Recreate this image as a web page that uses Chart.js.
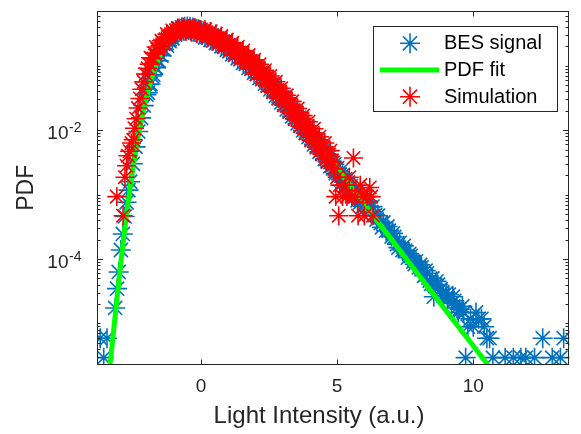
<!DOCTYPE html>
<html>
<head>
<meta charset="utf-8">
<script src="https://cdn.jsdelivr.net/npm/chart.js@4.4.1/dist/chart.umd.min.js"></script>
<style>
  html, body { margin: 0; padding: 0; background: #ffffff; }
</style>
</head>
<body>
<canvas id="chartCanvas" width="581" height="434"></canvas>
<script>
/* =========================
   Data
========================= */
// BES signal, main histogram bins
const besX = [
  -3.70, -3.57, -3.45, -3.15, -3.08, -3.02, -2.94, -2.87, -2.80, -2.73,
  -2.66, -2.60, -2.50, -2.40, -2.30, -2.20, -2.10, -2.00, -1.90, -1.80,
  -1.70, -1.60, -1.50, -1.40, -1.30, -1.20, -1.10, -1.00, -0.90, -0.80,
  -0.70, -0.60, -0.50, -0.40, -0.30, -0.20, -0.10, 0.00, 0.10, 0.20,
  0.30, 0.40, 0.50, 0.60, 0.70, 0.80, 0.90, 1.00, 1.10, 1.20,
  1.30, 1.40, 1.50, 1.60, 1.70, 1.80, 1.90, 2.00, 2.10, 2.20,
  2.30, 2.40, 2.50, 2.60, 2.70, 2.80, 2.90, 3.00, 3.10, 3.20,
  3.30, 3.40, 3.50, 3.60, 3.70, 3.80, 3.90, 4.00, 4.10, 4.20,
  4.30, 4.40, 4.50, 4.60, 4.70, 4.80, 4.90, 5.00, 5.10, 5.20,
  5.30, 5.40, 5.50, 5.60, 5.70, 5.80, 5.90, 6.00, 6.10, 6.20,
  6.30, 6.40, 6.50, 6.60, 6.70, 6.80, 6.90, 7.00, 7.10, 7.20,
  7.30, 7.40, 7.50, 7.60, 7.70, 7.80, 7.90, 8.00, 8.10, 8.20,
  8.30, 8.40, 8.50, 8.55, 8.60, 8.70, 8.80, 8.90, 9.00, 9.10,
  9.20, 9.30, 9.40, 9.50, 9.60, 9.72, 9.80, 9.90, 10.00, 10.10,
  10.20, 10.30, 10.40, 10.50, 10.60, 10.72, 11.17, 11.47, 11.75, 11.93,
  12.25, 12.55, 12.90, 13.20, 13.32
];
const besY = [
  5.9e-6, 2.95e-6, 5.9e-6, 1.74e-5, 3.47e-5, 6.3e-5, 1.38e-4, 2.45e-4, 4.57e-4, 7.6e-4,
  1.17e-3, 1.58e-3, 3.0e-3, 5.5e-3, 9.5e-3, 1.55e-2, 2.4e-2, 3.55e-2, 5.1e-2, 6.9e-2,
  0.095, 0.12, 0.148, 0.182, 0.219, 0.251, 0.288, 0.324, 0.351, 0.376,
  0.394, 0.403, 0.407, 0.403, 0.39, 0.38, 0.367, 0.355, 0.339, 0.324,
  0.309, 0.295, 0.282, 0.266, 0.251, 0.237, 0.224, 0.209, 0.195, 0.182,
  0.17, 0.158, 0.145, 0.135, 0.123, 0.115, 0.105, 0.0955, 0.087, 0.079,
  0.0716, 0.0646, 0.0575, 0.0519, 0.0468, 0.0412, 0.0367, 0.0324, 0.0288, 0.0254,
  0.0224, 0.020, 0.0174, 0.0155, 0.0135, 0.012, 0.0106, 9.3e-3, 8.2e-3, 7.2e-3,
  6.3e-3, 5.56e-3, 4.9e-3, 4.3e-3, 3.8e-3, 3.3e-3, 2.95e-3, 2.57e-3, 2.26e-3, 2.0e-3,
  1.74e-3, 1.55e-3, 1.35e-3, 1.19e-3, 1.05e-3, 9.1e-4, 8.0e-4, 7.1e-4, 7.9e-4, 6.3e-4,
  6.5e-4, 4.8e-4, 4.7e-4, 3.6e-4, 3.7e-4, 2.75e-4, 2.75e-4, 2.24e-4, 2.2e-4, 1.7e-4,
  1.78e-4, 1.38e-4, 1.35e-4, 1.05e-4, 1.12e-4, 9.1e-5, 9.2e-5, 7.4e-5, 7.4e-5, 5.5e-5,
  6.0e-5, 4.6e-5, 5.0e-5, 2.6e-5, 3.8e-5, 4.0e-5, 3.4e-5, 2.7e-5, 2.95e-5, 2.8e-5,
  2.05e-5, 2.25e-5, 1.74e-5, 1.67e-5, 1.85e-5, 2.95e-6, 8.9e-6, 1.18e-5, 8.9e-6, 1.48e-5,
  1.18e-5, 1.18e-5, 8.9e-6, 5.9e-6, 5.9e-6, 2.95e-6, 2.95e-6, 2.95e-6, 2.95e-6, 2.95e-6,
  2.95e-6, 5.9e-6, 2.95e-6, 2.95e-6, 5.9e-6
];
// BES signal, in-between bins (lower side of the band)
const besX2 = [
  -1.95, -1.85, -1.75, -1.65, -1.55, -1.45, -1.35, -1.25, -1.15, -1.05,
  -0.95, -0.85, -0.75, -0.65, -0.55, -0.45, -0.35, -0.25, -0.15, -0.05,
  0.05, 0.15, 0.25, 0.35, 0.45, 0.55, 0.65, 0.75, 0.85, 0.95,
  1.05, 1.15, 1.25, 1.35, 1.45, 1.55, 1.65, 1.75, 1.85, 1.95,
  2.05, 2.15, 2.25, 2.35, 2.45, 2.55, 2.65, 2.75, 2.85, 2.95,
  3.05, 3.15, 3.25, 3.35, 3.45, 3.55, 3.65, 3.75, 3.85, 3.95,
  4.05, 4.15, 4.25, 4.35, 4.45, 4.55, 4.65, 4.75, 4.85, 4.95,
  5.05, 5.15, 5.25, 5.35, 5.45, 5.55, 5.65, 5.75, 5.85, 5.95,
  6.25, 6.45, 6.65, 6.85, 7.05, 7.25, 7.45, 7.65, 7.85, 8.05,
  8.25, 8.45, 8.65, 8.85, 9.05, 9.25, 9.45, 9.65
];
const besY2 = [
  0.038, 0.0519, 0.0724, 0.0933, 0.119, 0.143, 0.178, 0.204, 0.24, 0.266,
  0.302, 0.316, 0.343, 0.347, 0.361, 0.353, 0.355, 0.335, 0.333, 0.307,
  0.302, 0.275, 0.275, 0.251, 0.245, 0.224, 0.219, 0.20, 0.195, 0.176,
  0.168, 0.15, 0.146, 0.13, 0.126, 0.111, 0.107, 0.0923, 0.0891, 0.0776,
  0.0741, 0.0646, 0.0617, 0.0525, 0.0495, 0.0427, 0.0398, 0.0339, 0.0316, 0.0269,
  0.0248, 0.0209, 0.0195, 0.0164, 0.0151, 0.0127, 0.0117, 9.9e-3, 9.1e-3, 7.8e-3,
  7.1e-3, 6.0e-3, 5.5e-3, 4.6e-3, 4.3e-3, 3.55e-3, 3.3e-3, 2.75e-3, 2.54e-3, 2.14e-3,
  1.95e-3, 1.7e-3, 1.55e-3, 1.3e-3, 1.2e-3, 1.0e-3, 9.5e-4, 8.1e-4, 7.6e-4, 6.6e-4,
  5.4e-4, 4.1e-4, 3.1e-4, 3.2e-4, 2.5e-4, 1.5e-4, 1.6e-4, 1.2e-4, 8.3e-5, 8.1e-5,
  6.6e-5, 4.1e-5, 4.5e-5, 3.0e-5, 2.4e-5, 2.6e-5, 1.48e-5, 1.48e-5
];

// PDF fit curve
const fitX = [
  -3.40, -3.30, -3.20, -3.10, -3.00, -2.90, -2.80, -2.70, -2.60, -2.50,
  -2.40, -2.30, -2.20, -2.10, -2.00, -1.80, -1.60, -1.40, -1.20, -1.00,
  -0.80, -0.60, -0.40, -0.20, 0.00, 0.50, 1.00, 1.50, 2.00, 2.50,
  3.00, 3.50, 4.00, 4.50, 5.00, 5.50, 6.00, 7.00, 8.00, 9.00,
  10.00, 10.70
];
const fitY = [
  1.26e-6, 3.24e-6, 8.3e-6, 2.09e-5, 5.25e-5, 1.26e-4, 2.88e-4, 6.3e-4, 1.29e-3, 2.51e-3,
  4.68e-3, 8.1e-3, 1.35e-2, 2.14e-2, 3.24e-2, 6.6e-2, 0.115, 0.174, 0.245, 0.316,
  0.372, 0.398, 0.398, 0.38, 0.355, 0.282, 0.209, 0.145, 0.0955, 0.0575,
  0.0324, 0.0174, 9.3e-3, 4.9e-3, 2.57e-3, 1.35e-3, 7.1e-4, 2.0e-4, 5.6e-5, 1.58e-5,
  4.5e-6, 1.84e-6
];

// Simulation, main bins
const simX = [
  -3.09, -2.86, -2.79, -2.73, -2.68, -2.62, -2.55, -2.49, -2.44, -2.38,
  -2.31, -2.24, -2.17, -2.10, -2.03, -1.96, -1.90, -1.80, -1.70, -1.60,
  -1.50, -1.40, -1.30, -1.20, -1.10, -1.00, -0.90, -0.80, -0.70, -0.60,
  -0.50, -0.40, -0.30, -0.20, -0.10, 0.00, 0.10, 0.20, 0.30, 0.40,
  0.50, 0.60, 0.70, 0.80, 0.90, 1.00, 1.10, 1.20, 1.30, 1.40,
  1.50, 1.60, 1.70, 1.80, 1.90, 2.00, 2.10, 2.20, 2.30, 2.40,
  2.50, 2.60, 2.70, 2.80, 2.90, 3.00, 3.10, 3.20, 3.30, 3.40,
  3.50, 3.60, 3.70, 3.80, 3.90, 4.00, 4.10, 4.20, 4.30, 4.40,
  4.50, 4.60, 4.70, 4.80, 4.90, 4.95, 5.00, 5.06, 5.10, 5.20,
  5.30, 5.36, 5.45, 5.54, 5.60, 5.66, 5.77, 5.85, 5.95, 6.00,
  6.10, 6.20, 6.25, 6.32
];
const simY = [
  9.3e-4, 4.7e-4, 1.86e-3, 2.8e-3, 4.0e-3, 4.7e-3, 6.3e-3, 7.1e-3, 1.07e-2, 1.5e-2,
  2.2e-2, 3.1e-2, 4.3e-2, 5.6e-2, 7.4e-2, 9.1e-2, 0.105, 0.129, 0.155, 0.178,
  0.204, 0.229, 0.257, 0.282, 0.309, 0.331, 0.351, 0.363, 0.372, 0.38,
  0.38, 0.376, 0.372, 0.359, 0.347, 0.339, 0.331, 0.316, 0.316, 0.288,
  0.282, 0.263, 0.257, 0.234, 0.229, 0.204, 0.2, 0.178, 0.174, 0.155,
  0.151, 0.132, 0.129, 0.112, 0.11, 0.093, 0.093, 0.076, 0.078, 0.063,
  0.06, 0.05, 0.051, 0.0398, 0.0398, 0.0316, 0.0316, 0.024, 0.0251, 0.0186,
  0.019, 0.0141, 0.0151, 0.0107, 0.0117, 8.3e-3, 9.1e-3, 6.3e-3, 7.1e-3, 4.8e-3,
  5.5e-3, 3.55e-3, 4.2e-3, 2.8e-3, 2.5e-3, 9.3e-4, 1.86e-3, 4.7e-4, 1.4e-3, 9.3e-4,
  1.4e-3, 9.3e-4, 1.86e-3, 9.3e-4, 3.7e-3, 9.3e-4, 4.7e-4, 1.4e-3, 9.3e-4, 4.7e-4,
  9.3e-4, 1.29e-3, 9.3e-4, 4.7e-4
];
// Simulation, in-between bins (scattered both sides)
const simX2 = [
  -1.85, -1.75, -1.65, -1.55, -1.45, -1.35, -1.25, -1.15, -1.05, -0.95,
  -0.85, -0.75, -0.65, -0.55, -0.45, -0.35, -0.25, -0.15, -0.05, 0.05,
  0.15, 0.25, 0.35, 0.45, 0.55, 0.65, 0.75, 0.85, 0.95, 1.05,
  1.15, 1.25, 1.35, 1.45, 1.55, 1.65, 1.75, 1.85, 1.95, 2.05,
  2.15, 2.25, 2.35, 2.45, 2.55, 2.65, 2.75, 2.85, 2.95, 3.05,
  3.15, 3.25, 3.35, 3.45, 3.55, 3.65, 3.75, 3.85, 3.95, 4.05,
  4.15, 4.25, 4.35, 4.45, 4.55, 4.65, 4.75, 4.85
];
const simY2 = [
  0.133, 0.129, 0.195, 0.178, 0.243, 0.221, 0.309, 0.275, 0.351, 0.318,
  0.383, 0.335, 0.394, 0.339, 0.378, 0.331, 0.389, 0.316, 0.367, 0.299,
  0.363, 0.275, 0.339, 0.248, 0.313, 0.221, 0.288, 0.197, 0.254, 0.168,
  0.226, 0.15, 0.197, 0.126, 0.172, 0.107, 0.146, 0.089, 0.123, 0.074,
  0.105, 0.0617, 0.0851, 0.0484, 0.0692, 0.0389, 0.0562, 0.0309, 0.0447, 0.0243,
  0.0347, 0.0191, 0.0279, 0.0148, 0.0216, 0.0115, 0.0168, 8.9e-3, 0.0135, 6.9e-3,
  0.0105, 5.4e-3, 7.9e-3, 4.2e-3, 6.3e-3, 3.2e-3, 4.8e-3, 3.16e-3
];

const xTicks = [0, 5, 10];
const yTickExp = [-2, -4];
const legendLabels = ["BES signal", "PDF fit", "Simulation"];

const BLUE = "#0072BD";
const RED = "#FF0000";
const GREEN = "#00FF00";
const AXIS_COLOR = "#262626";
const FONT = '"Liberation Sans", Arial, Helvetica, sans-serif';

function toPoints(xs, ys) {
  const n = Math.min(xs.length, ys.length);
  const out = [];
  for (let i = 0; i < n; i++) out.push({ x: xs[i], y: ys[i] });
  return out;
}

function drawAsterisk(ctx, cx, cy, r, color, lw) {
  const d = r * Math.SQRT1_2;
  ctx.save();
  ctx.strokeStyle = color;
  ctx.lineWidth = lw;
  ctx.beginPath();
  ctx.moveTo(cx - r, cy); ctx.lineTo(cx + r, cy);
  ctx.moveTo(cx, cy - r); ctx.lineTo(cx, cy + r);
  ctx.moveTo(cx - d, cy - d); ctx.lineTo(cx + d, cy + d);
  ctx.moveTo(cx - d, cy + d); ctx.lineTo(cx + d, cy - d);
  ctx.stroke();
  ctx.restore();
}

/* =========================
   MATLAB-like axes box, ticks, labels, legend
========================= */
const axesPlugin = {
  id: "matlabAxes",
  afterDatasetsDraw(chart) {
    const { ctx, chartArea: a, scales } = chart;
    const xs = scales.x, ys = scales.y;
    const L = Math.round(a.left) - 0.5, R = Math.round(a.right) - 0.5;
    const T = Math.round(a.top) - 0.5, B = Math.round(a.bottom) + 0.5;

    ctx.save();
    ctx.strokeStyle = AXIS_COLOR;
    ctx.lineWidth = 1;
    ctx.strokeRect(L, T, R - L, B - T);

    // inward ticks
    ctx.beginPath();
    xTicks.forEach(v => {
      const px = Math.round(xs.getPixelForValue(v)) + 0.5;
      ctx.moveTo(px, B); ctx.lineTo(px, B - 5);
      ctx.moveTo(px, T); ctx.lineTo(px, T + 5);
    });
    for (let k = -6; k <= 0; k++) {
      for (let m = 1; m <= 9; m++) {
        const v = m * Math.pow(10, k);
        if (v < ys.min || v > ys.max) continue;
        const py = Math.round(ys.getPixelForValue(v)) + 0.5;
        const len = (m === 1 && yTickExp.includes(k)) ? 5.5 : 3;
        ctx.moveTo(L, py); ctx.lineTo(L + len, py);
        ctx.moveTo(R, py); ctx.lineTo(R - len, py);
      }
    }
    ctx.stroke();

    // x tick labels
    ctx.fillStyle = AXIS_COLOR;
    ctx.font = "19px " + FONT;
    ctx.textAlign = "center";
    ctx.textBaseline = "middle";
    xTicks.forEach(v => {
      ctx.fillText(String(v), xs.getPixelForValue(v), 387);
    });

    // y tick labels 10^k
    yTickExp.forEach(k => {
      const py = ys.getPixelForValue(Math.pow(10, k));
      ctx.font = "19px " + FONT;
      ctx.textAlign = "right";
      ctx.textBaseline = "middle";
      ctx.fillText("10", 68.5, py + 3.6);
      ctx.font = "14px " + FONT;
      ctx.textAlign = "left";
      ctx.fillText(String(k), 69, py - 1.5);
    });

    // axis titles
    ctx.font = "24px " + FONT;
    ctx.textAlign = "center";
    ctx.textBaseline = "alphabetic";
    ctx.fillText("Light Intensity (a.u.)", 319, 423);
    ctx.save();
    ctx.translate(33, (a.top + a.bottom) / 2);
    ctx.rotate(-Math.PI / 2);
    ctx.font = "23px " + FONT;
    ctx.fillText("PDF", 0, 0);
    ctx.restore();

    // legend
    ctx.fillStyle = "#ffffff";
    ctx.fillRect(373.5, 26.5, 184, 85);
    ctx.strokeStyle = AXIS_COLOR;
    ctx.lineWidth = 1;
    ctx.strokeRect(373.5, 26.5, 184, 85);
    const rows = [43.3, 70, 96.7];
    drawAsterisk(ctx, 410, rows[0], 10, BLUE, 1.6);
    ctx.fillStyle = GREEN;
    ctx.fillRect(380, rows[1] - 2.5, 59, 5);
    drawAsterisk(ctx, 410, rows[2], 10, RED, 1.6);
    ctx.fillStyle = "#000000";
    ctx.font = "20px " + FONT;
    ctx.textAlign = "left";
    ctx.textBaseline = "middle";
    legendLabels.forEach((t, i) => ctx.fillText(t, 444, rows[i] + 0.5));
    ctx.restore();
  }
};

/* =========================
   Render Chart
========================= */
const canvas = document.getElementById("chartCanvas");
new Chart(canvas.getContext("2d"), {
  type: "scatter",
  data: {
    datasets: [
      {
        label: legendLabels[2],
        data: toPoints(simX, simY).concat(toPoints(simX2, simY2)),
        pointStyle: "star",
        pointRadius: 9.5,
        pointBorderWidth: 1.6,
        borderColor: RED,
        backgroundColor: RED,
        order: 1
      },
      {
        label: legendLabels[1],
        data: toPoints(fitX, fitY),
        showLine: true,
        pointRadius: 0,
        borderColor: GREEN,
        backgroundColor: GREEN,
        borderWidth: 5,
        cubicInterpolationMode: "monotone",
        clip: 0,
        order: 2
      },
      {
        label: legendLabels[0],
        data: toPoints(besX, besY).concat(toPoints(besX2, besY2)),
        pointStyle: "star",
        pointRadius: 10,
        pointBorderWidth: 1.6,
        borderColor: BLUE,
        backgroundColor: BLUE,
        order: 3
      }
    ]
  },
  options: {
    responsive: false,
    animation: false,
    devicePixelRatio: 1,
    events: [],
    layout: { padding: { left: 98, top: 7, right: 3, bottom: 70 } },
    plugins: {
      legend: { display: false },
      tooltip: { enabled: false }
    },
    scales: {
      x: { type: "linear", display: false, min: -3.78, max: 13.53 },
      y: { type: "logarithmic", display: false, min: 2.35e-6, max: 0.69 }
    }
  },
  plugins: [axesPlugin]
});
</script>
</body>
</html>
